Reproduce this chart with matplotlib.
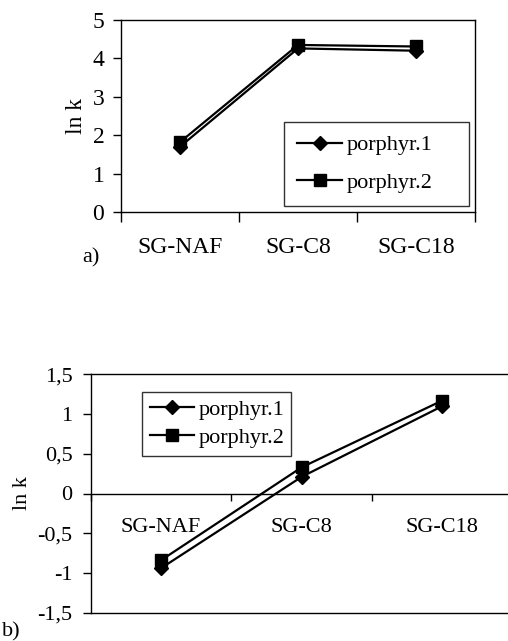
import numpy as np
import matplotlib
matplotlib.use("Agg")
import matplotlib.pyplot as plt

plt.rcParams["font.family"] = ["Liberation Serif", "DejaVu Serif"]

categories = ["SG-NAF", "SG-C8", "SG-C18"]
series_names = ["porphyr.1", "porphyr.2"]

# panel a)
a_p1 = [1.70, 4.26, 4.20]
a_p2 = [1.82, 4.35, 4.31]
a_yticks = [0, 1, 2, 3, 4, 5]

# panel b)
b_p1 = [-0.94, 0.21, 1.10]
b_p2 = [-0.84, 0.33, 1.17]
b_yticks = [-1.5, -1, -0.5, 0, 0.5, 1, 1.5]
b_yticklabels = ["-1,5", "-1", "-0,5", "0", "0,5", "1", "1,5"]

W, H = 508, 641
fig = plt.figure(figsize=(W / 100, H / 100), dpi=100)


def frac(x0, y0, x1, y1):
    # pixel box (top-left origin) -> figure fraction rect
    return [x0 / W, 1 - y1 / H, (x1 - x0) / W, (y1 - y0) / H]


x = np.arange(len(categories))
bounds = np.arange(len(categories) + 1) - 0.5

# ---- a) ----
ax = fig.add_axes(frac(121, 20, 475, 212))
ax.plot(x, a_p1, "k-", lw=1.6, marker="D", ms=7, label=series_names[0])
ax.plot(x, a_p2, "k-", lw=1.6, marker="s", ms=8, label=series_names[1])
ax.set_xlim(-0.5, 2.5)
ax.set_ylim(0, 5)
ax.set_yticks(a_yticks)
ax.set_xticks(bounds)
ax.set_xticklabels([])
ax.set_xticks(x, minor=True)
ax.set_xticklabels(categories, minor=True)
ax.tick_params(axis="x", which="major", direction="out", length=7, width=1)
ax.tick_params(axis="x", which="minor", length=0, pad=18, labelsize=17)
ax.tick_params(axis="y", direction="out", length=6, width=1, pad=6, labelsize=17)
for s in ax.spines.values():
    s.set_linewidth(1)
ax.set_ylabel("ln k", fontsize=17, labelpad=4)
# legend box in pixels: x 284-469, y 123-206
lx0, ly0, lx1, ly1 = frac(284, 123, 469, 206)[0], 1 - 206 / H, 469 / W, 1 - 123 / H
leg = ax.legend(loc="lower left", bbox_to_anchor=(lx0, ly0, lx1 - lx0, ly1 - ly0),
                bbox_transform=fig.transFigure, mode="expand", borderaxespad=0,
                fontsize=16, frameon=True, fancybox=False, edgecolor="k",
                handlelength=2.0, borderpad=0.6, labelspacing=0.75,
                handletextpad=0.2)
leg.get_frame().set_linewidth(1)
fig.text(82 / W, 1 - 258 / H, "a)", fontsize=16, va="center")

# ---- b) ----
bx = fig.add_axes(frac(90.7, 374.3, 512.7, 612.7))
bx.plot(x, b_p1, "k-", lw=1.6, marker="D", ms=7, label=series_names[0])
bx.plot(x, b_p2, "k-", lw=1.6, marker="s", ms=8, label=series_names[1])
bx.set_xlim(-0.5, 2.5)
bx.set_ylim(-1.5, 1.5)
bx.set_yticks(b_yticks)
bx.set_yticklabels(b_yticklabels)
bx.spines["bottom"].set_position(("data", 0))
bx.axhline(-1.5, color="k", lw=1, clip_on=False)
bx.set_xticks(bounds)
bx.set_xticklabels([])
bx.set_xticks(x, minor=True)
bx.set_xticklabels(categories, minor=True)
bx.tick_params(axis="x", which="major", direction="out", length=5, width=1)
bx.tick_params(axis="x", which="minor", length=0, pad=18, labelsize=16)
bx.tick_params(axis="y", direction="out", length=6, width=1, pad=7, labelsize=16)
for s in bx.spines.values():
    s.set_linewidth(1)
bx.set_ylabel("ln k", fontsize=16, labelpad=4)
# legend box in pixels: x 142-291, y 389-456
mx0, my0, mx1, my1 = 142 / W, 1 - 456 / H, 291 / W, 1 - 389 / H
leg = bx.legend(loc="lower left", bbox_to_anchor=(mx0, my0, mx1 - mx0, my1 - my0),
                bbox_transform=fig.transFigure, mode="expand", borderaxespad=0,
                fontsize=16, frameon=True, fancybox=False, edgecolor="k",
                handlelength=2.0, borderpad=0.35, labelspacing=0.35,
                handletextpad=0.2)
leg.get_frame().set_linewidth(1)
fig.text(2 / W, 1 - 632 / H, "b)", fontsize=16, va="center")

fig.savefig("out.png", dpi=100)
